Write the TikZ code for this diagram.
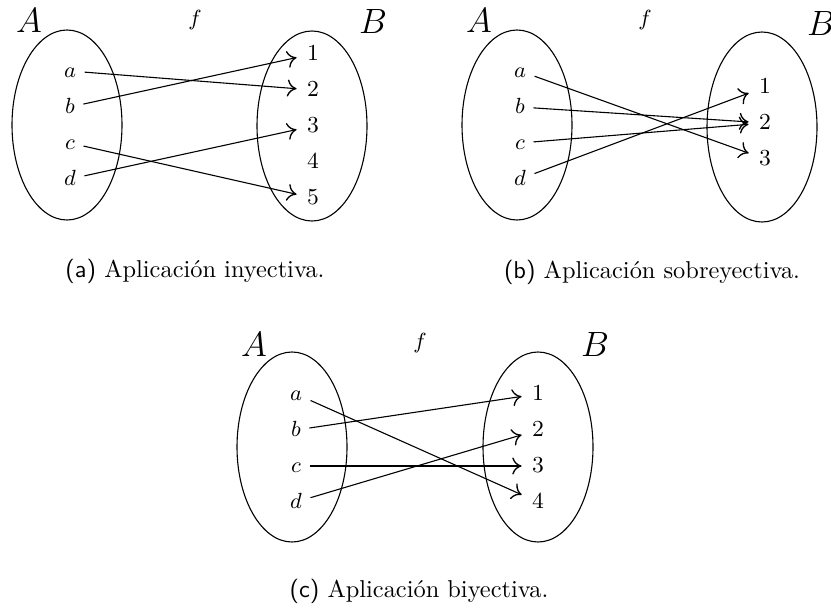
\documentclass[tikz,border=0pt]{standalone}
\usetikzlibrary{arrows.meta}
\begin{document}
\begin{tikzpicture}[x=0.41pt,y=-0.41pt,
  elem/.style={font=\fontsize{9.4}{11}\selectfont, text height=1.5ex, text depth=0.25ex},
  setlabel/.style={font=\fontsize{14.4}{17}\selectfont},
  setoval/.style={draw, line width=0.45pt},
  maparrow/.style={-{To[length=3.8pt,width=7pt,line width=0.55pt]}, line width=0.45pt, shorten >=0.8pt},
  captext/.style={font=\fontsize{10}{12}\selectfont, anchor=base}]
\useasboundingbox (0,0) rectangle (831,608);

% ---------- (a) ----------
\begin{scope}[name prefix=pa-]
  \draw[setoval] (67,125) ellipse [x radius=55, y radius=95];
  \draw[setoval] (312,126) ellipse [x radius=55, y radius=95];
  \node[setlabel] (A) at (29,21) {$A$};
  \node[setlabel] (B) at (373,22) {$B$};
  \node[elem] (f) at (195,19) {$f$};
  \node[elem] (a) at (70,71) {$a$};
  \node[elem] (b) at (70,107) {$b$};
  \node[elem] (c) at (70,143) {$c$};
  \node[elem] (d) at (70,179) {$d$};
  \node[elem] (n1) at (313,54) {1};
  \node[elem] (n2) at (313,90) {2};
  \node[elem] (n3) at (313,126) {3};
  \node[elem] (n4) at (313,162) {4};
  \node[elem] (n5) at (313,198) {5};
  \draw[maparrow] (a) -- (n2);
  \draw[maparrow] (b) -- (n1);
  \draw[maparrow] (c) -- (n5);
  \draw[maparrow] (d) -- (n3);
  \node[captext] (cap) at (195,277) {\textsf{(a)} Aplicación inyectiva.};
\end{scope}

% ---------- (b) ----------
\begin{scope}[shift={(450,0)}, name prefix=pb-]
  \draw[setoval] (67,125) ellipse [x radius=55, y radius=95];
  \draw[setoval] (312,127) ellipse [x radius=55, y radius=95];
  \node[setlabel] (A) at (29,21) {$A$};
  \node[setlabel] (B) at (371,24) {$B$};
  \node[elem] (f) at (195,19) {$f$};
  \node[elem] (a) at (70,71) {$a$};
  \node[elem] (b) at (70,107) {$b$};
  \node[elem] (c) at (70,143) {$c$};
  \node[elem] (d) at (70,179) {$d$};
  \node[elem] (n1) at (315,87) {1};
  \node[elem] (n2) at (315,123) {2};
  \node[elem] (n3) at (315,159) {3};
  \draw[maparrow] (a) -- (n3);
  \draw[maparrow] (b) -- (n2);
  \draw[maparrow] (c) -- (n2);
  \draw[maparrow] (d) -- (n1);
  \node[captext] (cap) at (202,278) {\textsf{(b)} Aplicación sobreyectiva.};
\end{scope}

% ---------- (c) ----------
\begin{scope}[shift={(225,322)}, name prefix=pc-]
  \draw[setoval] (67,125) ellipse [x radius=55, y radius=95];
  \draw[setoval] (313,125) ellipse [x radius=55, y radius=95];
  \node[setlabel] (A) at (29,22) {$A$};
  \node[setlabel] (B) at (370,22) {$B$};
  \node[elem] (f) at (195,20) {$f$};
  \node[elem] (a) at (71,72) {$a$};
  \node[elem] (b) at (71,108) {$b$};
  \node[elem] (c) at (71,144) {$c$};
  \node[elem] (d) at (71,180) {$d$};
  \node[elem] (n1) at (313,72) {1};
  \node[elem] (n2) at (313,108) {2};
  \node[elem] (n3) at (313,144) {3};
  \node[elem] (n4) at (313,180) {4};
  \draw[maparrow] (a) -- (n4);
  \draw[maparrow] (b) -- (n1);
  \draw[maparrow] (c) -- (n3);
  \draw[maparrow] (d) -- (n2);
  \node[captext] (cap) at (194,275) {\textsf{(c)} Aplicación biyectiva.};
\end{scope}
\end{tikzpicture}
\end{document}
